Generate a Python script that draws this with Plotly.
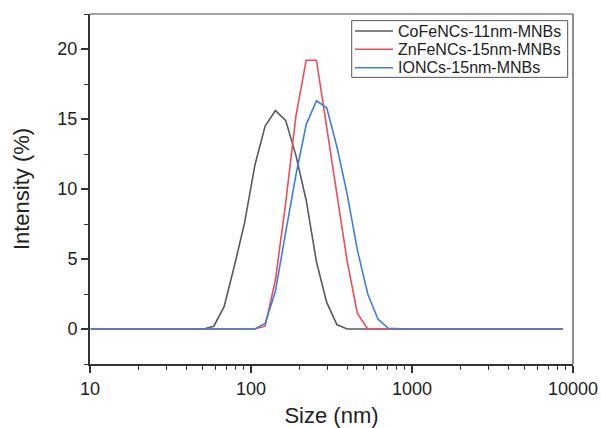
import plotly.graph_objects as go

# DLS size bins (nm)
size_nm = [10.1, 11.7, 13.54, 15.69, 18.17, 21.04, 24.36, 28.21, 32.67, 37.84,
           43.82, 50.75, 58.77, 68.06, 78.82, 91.28, 105.7, 122.4, 141.8, 164.2,
           190.1, 220.2, 255.0, 295.3, 342.0, 396.1, 458.7, 531.2, 615.1, 712.4,
           825.0, 955.4, 1106, 1281, 1484, 1718, 1990, 2305, 2669, 3091,
           3580, 4145, 4801, 5560, 6439, 7456, 8635]

# Intensity distributions (%)
cofe_11 = [0, 0, 0, 0, 0, 0, 0, 0, 0, 0,
           0, 0, 0.2, 1.6, 4.5, 7.6, 11.7, 14.5, 15.6, 14.9,
           12.4, 9.2, 4.8, 1.9, 0.3, 0, 0, 0, 0, 0,
           0, 0, 0, 0, 0, 0, 0, 0, 0, 0,
           0, 0, 0, 0, 0, 0, 0]
znfe_15 = [0, 0, 0, 0, 0, 0, 0, 0, 0, 0,
           0, 0, 0, 0, 0, 0, 0, 0.2, 3.5, 9.0,
           15.2, 19.2, 19.2, 14.4, 9.7, 4.8, 1.1, 0, 0, 0,
           0, 0, 0, 0, 0, 0, 0, 0, 0, 0,
           0, 0, 0, 0, 0, 0, 0]
ionc_15 = [0, 0, 0, 0, 0, 0, 0, 0, 0, 0,
           0, 0, 0, 0, 0, 0, 0, 0.4, 2.7, 6.9,
           11.0, 14.6, 16.3, 15.8, 13.0, 9.6, 5.6, 2.5, 0.7, 0.05,
           0, 0, 0, 0, 0, 0, 0, 0, 0, 0,
           0, 0, 0, 0, 0, 0, 0]

series_names = ["CoFeNCs-11nm-MNBs", "ZnFeNCs-15nm-MNBs", "IONCs-15nm-MNBs"]
series_colors = ["#5a5a5a", "#f04b57", "#3d7fe0"]

x_tick_vals = [10, 100, 1000, 10000]
x_tick_text = ["10", "100", "1000", "10000"]
y_tick_vals = [0, 5, 10, 15, 20]

fig = go.Figure()
for name, ys, col in zip(series_names, [cofe_11, znfe_15, ionc_15], series_colors):
    fig.add_trace(go.Scatter(x=size_nm, y=ys, mode="lines", name=name,
                             line=dict(color=col, width=1.6), showlegend=False))

font_family = "Liberation Sans, Arial, sans-serif"
axis_col = "#333333"
text_col = "#222222"

fig.update_layout(
    width=601, height=428,
    margin=dict(l=90, r=28, t=14, b=64),
    paper_bgcolor="white", plot_bgcolor="white",
    font=dict(family=font_family, color=text_col),
    showlegend=False,
    xaxis=dict(type="log", range=[1, 4], automargin=False,
               tickvals=x_tick_vals, ticktext=x_tick_text,
               ticks="outside", ticklen=7, tickwidth=1.5, tickcolor=axis_col,
               minor=dict(ticks="outside", ticklen=4, tickwidth=1.2,
                          tickcolor=axis_col, dtick="D1", showgrid=False),
               showline=True, linecolor=axis_col, linewidth=2,
               showgrid=False, zeroline=False,
               tickfont=dict(size=18),
               title=dict(text="Size (nm)", font=dict(size=22), standoff=14)),
    yaxis=dict(range=[-2.5, 22.5], tickvals=y_tick_vals, automargin=False,
               ticks="outside", ticklen=7, tickwidth=1.5, tickcolor=axis_col,
               minor=dict(ticks="outside", ticklen=4, tickwidth=1.2,
                          tickcolor=axis_col, dtick=2.5, tick0=0, showgrid=False),
               showline=True, linecolor=axis_col, linewidth=2,
               showgrid=False, zeroline=False,
               tickfont=dict(size=18),
               title=dict(text="Intensity (%)", font=dict(size=22), standoff=22)),
)

# thinner frame on top and right
fig.add_shape(type="line", xref="paper", yref="paper", x0=0, x1=1, y0=1, y1=1,
              line=dict(color="#444444", width=1.2))
fig.add_shape(type="line", xref="paper", yref="paper", x0=1, x1=1, y0=0, y1=1,
              line=dict(color="#444444", width=1.2))

# compact legend box in the upper right corner
box_x0, box_x1, box_y0, box_y1 = 0.5418, 0.989, 0.819, 0.981
fig.add_shape(type="rect", xref="paper", yref="paper",
              x0=box_x0, x1=box_x1, y0=box_y0, y1=box_y1,
              line=dict(color="#555555", width=1), fillcolor="white", layer="above")
row_y = [0.9514, 0.8991, 0.8466]
for name, col, yy in zip(series_names, series_colors, row_y):
    fig.add_shape(type="line", xref="paper", yref="paper",
                  x0=0.5487, x1=0.6273, y0=yy, y1=yy,
                  line=dict(color=col, width=1.6), layer="above")
    fig.add_annotation(text=name, xref="paper", yref="paper", x=0.634, y=yy,
                       xanchor="left", yanchor="middle", showarrow=False,
                       font=dict(size=16, family=font_family, color=text_col))

fig.write_html("out.html")
